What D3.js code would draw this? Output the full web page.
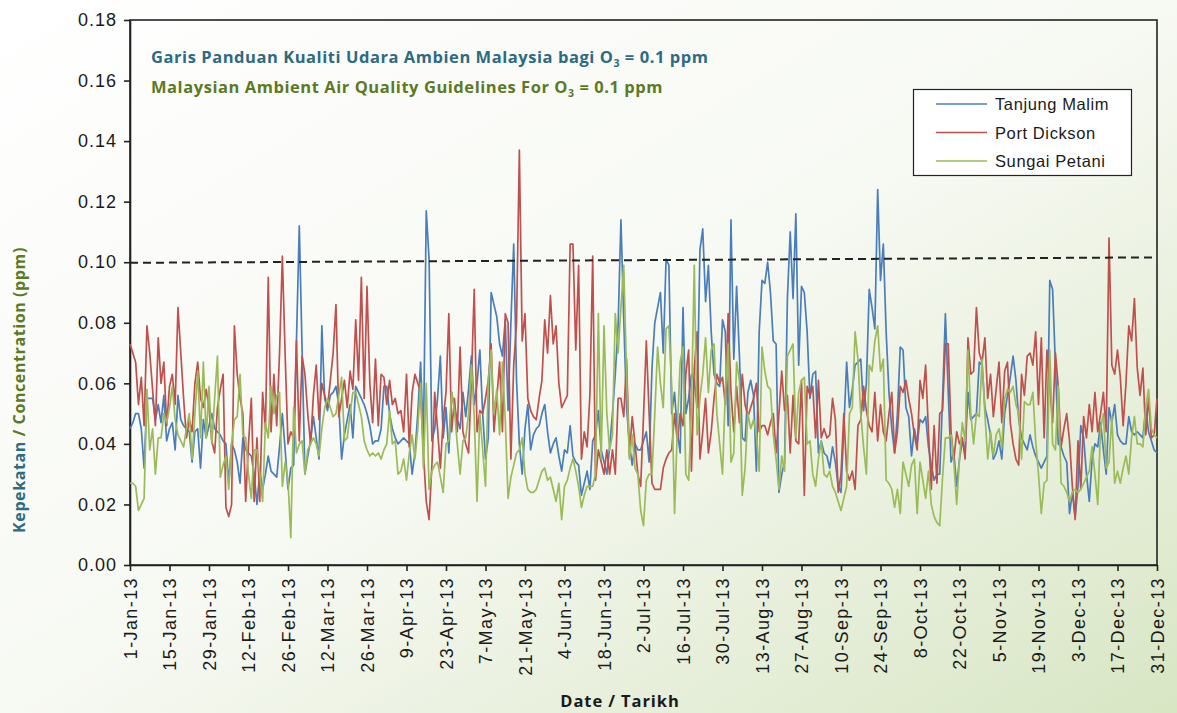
<!DOCTYPE html>
<html>
<head>
<meta charset="utf-8">
<script src="https://cdn.jsdelivr.net/npm/d3@7"></script>
<style>
    body { margin: 0; }
    svg { display: block; }
</style>
</head>
<body>
<div id="container"></div>
<script>
// daily O3 readings, ppb (0.001 ppm), 1-Jan-13 .. 31-Dec-13
const tanjungMalimPpb = [
    45,47,50,50,45,32,55,55,55,48, 53,47,56,41,45,47,38,56,48,46,
    45,44,34,44,45,32,48,42,46,50, 45,44,43,41,40,27,40,38,34,27,
    42,38,37,36,30,20,31,25,30,36, 31,30,29,39,50,38,25,32,33,74,
    112,71,30,36,41,49,42,35,79,55, 51,56,57,59,53,35,43,48,53,42,
    59,57,55,53,50,46,40,41,41,45, 59,59,50,45,42,40,41,42,41,40,
    30,37,50,67,41,117,101,41,45,55, 69,42,52,37,57,52,48,45,57,49,
    58,69,53,60,71,50,35,42,90,86, 82,73,69,81,51,80,106,61,40,30,
    45,53,38,43,45,46,50,53,44,37, 40,42,36,31,38,37,46,36,34,33,
    23,27,31,25,41,43,51,38,34,30, 39,50,63,79,114,81,52,40,33,40,
    38,38,41,44,34,65,80,85,90,70, 101,99,50,57,44,37,85,50,55,63,
    61,52,104,111,87,99,77,63,60,59, 81,77,46,114,68,92,69,42,41,57,
    61,56,31,77,94,93,100,90,74,73, 24,30,34,88,110,88,116,66,92,90,
    77,55,63,64,37,41,37,36,32,39, 34,26,24,45,67,52,58,66,67,68,
    51,60,91,85,78,124,94,106,77,57, 45,37,50,72,71,52,49,36,45,40,
    48,47,49,39,33,28,30,30,55,83, 57,34,37,26,35,41,37,57,48,49,
    50,67,66,52,48,43,35,37,41,35, 50,56,62,69,61,48,42,40,38,43,
    39,36,34,32,34,36,94,91,66,40, 39,36,34,17,24,16,26,46,42,30,
    21,35,40,39,47,38,30,52,47,53, 43,41,40,40,49,44,43,44,43,42,
    52,44,41,38,37
];
const portDicksonPpb = [
    73,70,67,53,62,46,79,70,58,46, 75,60,67,46,59,63,53,85,70,55,
    42,48,44,60,67,55,52,58,52,41, 37,52,58,63,19,16,20,79,63,55,
    50,21,40,55,21,42,21,57,45,95, 44,63,46,70,102,69,40,44,42,74,
    41,69,63,50,40,56,66,48,60,56, 52,61,70,86,49,55,61,52,64,58,
    81,61,95,55,92,60,47,68,46,63, 62,53,61,53,55,50,51,44,63,39,
    57,63,60,57,37,21,15,33,57,45, 32,48,57,83,44,55,44,72,44,40,
    37,61,91,44,51,50,55,61,73,44, 55,67,44,83,80,35,66,80,137,74,
    83,55,51,49,48,55,61,81,70,89, 73,79,60,52,54,56,106,106,71,99,
    35,44,39,56,102,28,38,34,30,38, 30,38,30,55,55,49,68,36,49,40,
    30,26,49,74,50,27,25,25,25,32, 35,37,38,50,41,50,46,63,71,31,
    65,77,35,44,55,37,44,55,63,60, 62,53,83,57,44,59,47,63,53,49,
    52,55,60,44,46,46,43,47,50,37, 50,64,51,56,37,56,41,40,61,23,
    59,56,59,42,61,42,45,42,43,55, 48,24,30,50,31,28,31,25,46,48,
    59,51,46,44,57,41,53,44,41,50, 57,37,44,59,57,61,55,50,43,38,
    61,55,66,44,25,46,27,50,51,73, 73,44,35,44,40,42,35,75,63,64,
    85,70,67,75,55,63,49,58,67,47, 64,67,47,40,35,33,63,56,69,70,
    66,77,53,75,42,71,59,47,70,59, 39,45,50,41,26,15,41,25,49,42,
    53,44,57,44,50,57,44,108,66,63, 71,62,46,60,79,74,88,65,56,65,
    43,55,42,43,55
];
const sungaiPetaniPpb = [
    27,27,26,18,20,22,58,38,45,30, 42,42,50,47,52,59,48,43,41,39,
    45,50,35,50,64,42,67,42,59,40, 55,69,29,33,36,25,40,48,49,63,
    43,42,30,22,38,38,30,21,47,42, 59,50,56,57,26,34,28,9,52,37,
    40,41,30,38,40,42,40,36,45,52, 55,52,49,50,56,62,41,42,50,57,
    57,53,49,41,38,36,37,36,37,35, 38,40,51,40,41,30,31,35,28,37,
    43,35,45,60,32,60,25,31,33,34, 29,24,40,41,57,51,40,30,41,42,
    50,66,49,21,50,38,26,61,71,50, 58,43,67,48,22,29,33,37,38,42,
    30,25,24,24,25,28,31,32,28,29, 25,21,27,15,26,28,32,35,31,26,
    19,23,26,26,26,30,83,35,79,50, 38,43,83,70,85,99,63,35,43,32,
    30,18,13,28,30,30,50,72,60,52, 78,79,59,17,45,67,72,30,28,52,
    99,43,55,63,75,57,71,73,50,40, 30,57,73,34,37,67,61,23,32,50,
    45,48,43,31,72,64,59,58,43,35, 25,36,31,69,71,73,42,57,61,62,
    40,41,30,26,35,41,30,29,31,26, 24,21,18,22,26,50,52,77,68,50,
    39,30,66,64,74,79,64,68,28,27, 25,19,25,17,34,30,26,33,35,17,
    34,28,22,31,20,16,14,13,29,42, 42,43,34,20,35,47,41,71,50,40,
    50,49,68,50,35,44,36,43,45,39, 55,58,57,59,53,50,35,54,53,53,
    57,41,30,17,27,28,71,40,38,59, 27,26,24,21,24,25,24,25,27,29,
    31,39,30,20,45,50,32,34,49,27, 31,27,32,36,30,42,49,40,40,39,
    52,58,45,43,42
];
const seriesNames = ['Tanjung Malim', 'Port Dickson', 'Sungai Petani'];
const seriesColors = ['#4a7ebb', '#c0504d', '#9bbb59'];
const xTickLabels = [
    '1-Jan-13', '15-Jan-13', '29-Jan-13', '12-Feb-13', '26-Feb-13', '12-Mar-13', '26-Mar-13',
    '9-Apr-13', '23-Apr-13', '7-May-13', '21-May-13', '4-Jun-13', '18-Jun-13', '2-Jul-13',
    '16-Jul-13', '30-Jul-13', '13-Aug-13', '27-Aug-13', '10-Sep-13', '24-Sep-13', '8-Oct-13',
    '22-Oct-13', '5-Nov-13', '19-Nov-13', '3-Dec-13', '17-Dec-13', '31-Dec-13'
];
const yTicks = [0, 0.02, 0.04, 0.06, 0.08, 0.10, 0.12, 0.14, 0.16, 0.18];
// guideline as drawn (start, end), ppm
const guideline = [0.0998, 0.1016];

const parseDate = d3.timeParse('%d-%b-%y');
const startDate = parseDate(xTickLabels[0]);
const toSeries = arr => arr.map((v, i) => ({ date: d3.timeDay.offset(startDate, i), value: v / 1000 }));
const series = [tanjungMalimPpb, portDicksonPpb, sungaiPetaniPpb].map(toSeries);

const W = 1177, H = 713;
const plot = { left: 130, right: 1157, top: 20, bottom: 565 };

const svg = d3.select('#container')
    .append('svg')
    .attr('width', W)
    .attr('height', H);

const defs = svg.append('defs');
const bgGrad = defs.append('linearGradient')
    .attr('id', 'bgGrad')
    .attr('x1', '0').attr('y1', '0')
    .attr('x2', '1').attr('y2', '1');
bgGrad.append('stop').attr('offset', '0%').attr('stop-color', '#ffffff');
bgGrad.append('stop').attr('offset', '50%').attr('stop-color', '#f7f9f3');
bgGrad.append('stop').attr('offset', '100%').attr('stop-color', '#d8e6c4');

svg.append('rect')
    .attr('width', W)
    .attr('height', H)
    .attr('fill', 'url(#bgGrad)');

const x = d3.scaleTime()
    .domain([startDate, parseDate(xTickLabels[xTickLabels.length - 1])])
    .range([plot.left, plot.right]);
const y = d3.scaleLinear()
    .domain([0, 0.18])
    .range([plot.bottom, plot.top]);

const axisFont = '"Liberation Sans", Arial, sans-serif';

// y axis
const yAxis = svg.append('g')
    .attr('transform', `translate(${plot.left},0)`)
    .call(d3.axisLeft(y).tickValues(yTicks).tickFormat(d3.format('.2f')).tickSize(6).tickSizeOuter(0));
yAxis.selectAll('text')
    .attr('x', -13)
    .style('font-family', axisFont)
    .style('font-size', '18px')
    .style('letter-spacing', '1px')
    .style('fill', '#1a1a1a');

// x axis
const xAxis = svg.append('g')
    .attr('transform', `translate(0,${plot.bottom})`)
    .call(d3.axisBottom(x).tickValues(xTickLabels.map(parseDate)).tickFormat(d3.timeFormat('%-d-%b-%y')).tickSize(6).tickSizeOuter(0));
xAxis.selectAll('text')
    .attr('transform', 'rotate(-90)')
    .attr('x', -12)
    .attr('y', 0)
    .attr('dy', '0.35em')
    .style('text-anchor', 'end')
    .style('font-family', axisFont)
    .style('font-size', '18px')
    .style('letter-spacing', '1.4px')
    .style('fill', '#1a1a1a');

svg.selectAll('.domain, .tick line')
    .attr('stroke', '#222')
    .attr('stroke-width', 1.6);

// frame
svg.append('rect')
    .attr('x', plot.left)
    .attr('y', plot.top)
    .attr('width', plot.right - plot.left)
    .attr('height', plot.bottom - plot.top)
    .attr('fill', 'none')
    .attr('stroke', '#222')
    .attr('stroke-width', 1.6);

// series
const line = d3.line()
    .x(d => x(d.date))
    .y(d => y(d.value));
series.forEach((s, i) => {
    svg.append('path')
        .datum(s)
        .attr('d', line)
        .attr('fill', 'none')
        .attr('stroke', seriesColors[i])
        .attr('stroke-width', 1.7)
        .attr('stroke-linejoin', 'round');
});

// guideline
svg.append('line')
    .attr('x1', x(startDate))
    .attr('x2', x(parseDate(xTickLabels[xTickLabels.length - 1])))
    .attr('y1', y(guideline[0]))
    .attr('y2', y(guideline[1]))
    .attr('stroke', '#222')
    .attr('stroke-width', 2)
    .attr('stroke-dasharray', '8,5');

// titles
const titleFont = '"Open Sans", "Noto Sans", sans-serif';
const titles = [
    { pre: 'Garis Panduan Kualiti Udara Ambien Malaysia bagi O', post: ' = 0.1 ppm', color: '#2c6b82', y: 63 },
    { pre: 'Malaysian Ambient Air Quality Guidelines For O', post: ' = 0.1 ppm', color: '#5b7a1f', y: 93 }
];
titles.forEach(t => {
    const txt = svg.append('text')
        .attr('x', 151)
        .attr('y', t.y)
        .style('font-family', titleFont)
        .style('font-weight', 700)
        .style('font-size', '16.5px')
        .style('letter-spacing', '0.55px')
        .style('fill', t.color);
    txt.append('tspan').text(t.pre);
    txt.append('tspan').text('3').attr('dy', 4).style('font-size', '10.5px');
    txt.append('tspan').text(t.post).attr('dy', -4);
});

// y label
const yLabel = svg.append('text')
    .attr('transform', 'translate(25,390) rotate(-90)')
    .style('text-anchor', 'middle')
    .style('font-family', titleFont)
    .style('font-weight', 700)
    .style('font-size', '16px')
    .style('letter-spacing', '0.6px');
yLabel.append('tspan').text('Kepekatan ').style('fill', '#2c6b82');
yLabel.append('tspan').text('/ Concentration (ppm)').style('fill', '#5b7a1f');

// x label
svg.append('text')
    .attr('x', 620)
    .attr('y', 707)
    .style('text-anchor', 'middle')
    .style('font-family', titleFont)
    .style('font-weight', 700)
    .style('font-size', '16.5px')
    .style('letter-spacing', '0.9px')
    .style('fill', '#1a1a1a')
    .text('Date / Tarikh');

// legend
const legend = svg.append('g');
legend.append('rect')
    .attr('x', 913.5)
    .attr('y', 89.5)
    .attr('width', 218)
    .attr('height', 86)
    .attr('fill', '#ffffff')
    .attr('stroke', '#222')
    .attr('stroke-width', 1.2);
seriesNames.forEach((name, i) => {
    const ly = 104 + i * 28.5;
    legend.append('line')
        .attr('x1', 936)
        .attr('x2', 987)
        .attr('y1', ly)
        .attr('y2', ly)
        .attr('stroke', seriesColors[i])
        .attr('stroke-width', 1.7);
    legend.append('text')
        .attr('x', 995)
        .attr('y', ly + 6)
        .style('font-family', axisFont)
        .style('font-size', '16.5px')
        .style('letter-spacing', '0.6px')
        .style('fill', '#1a1a1a')
        .text(name);
});
</script>
</body>
</html>
